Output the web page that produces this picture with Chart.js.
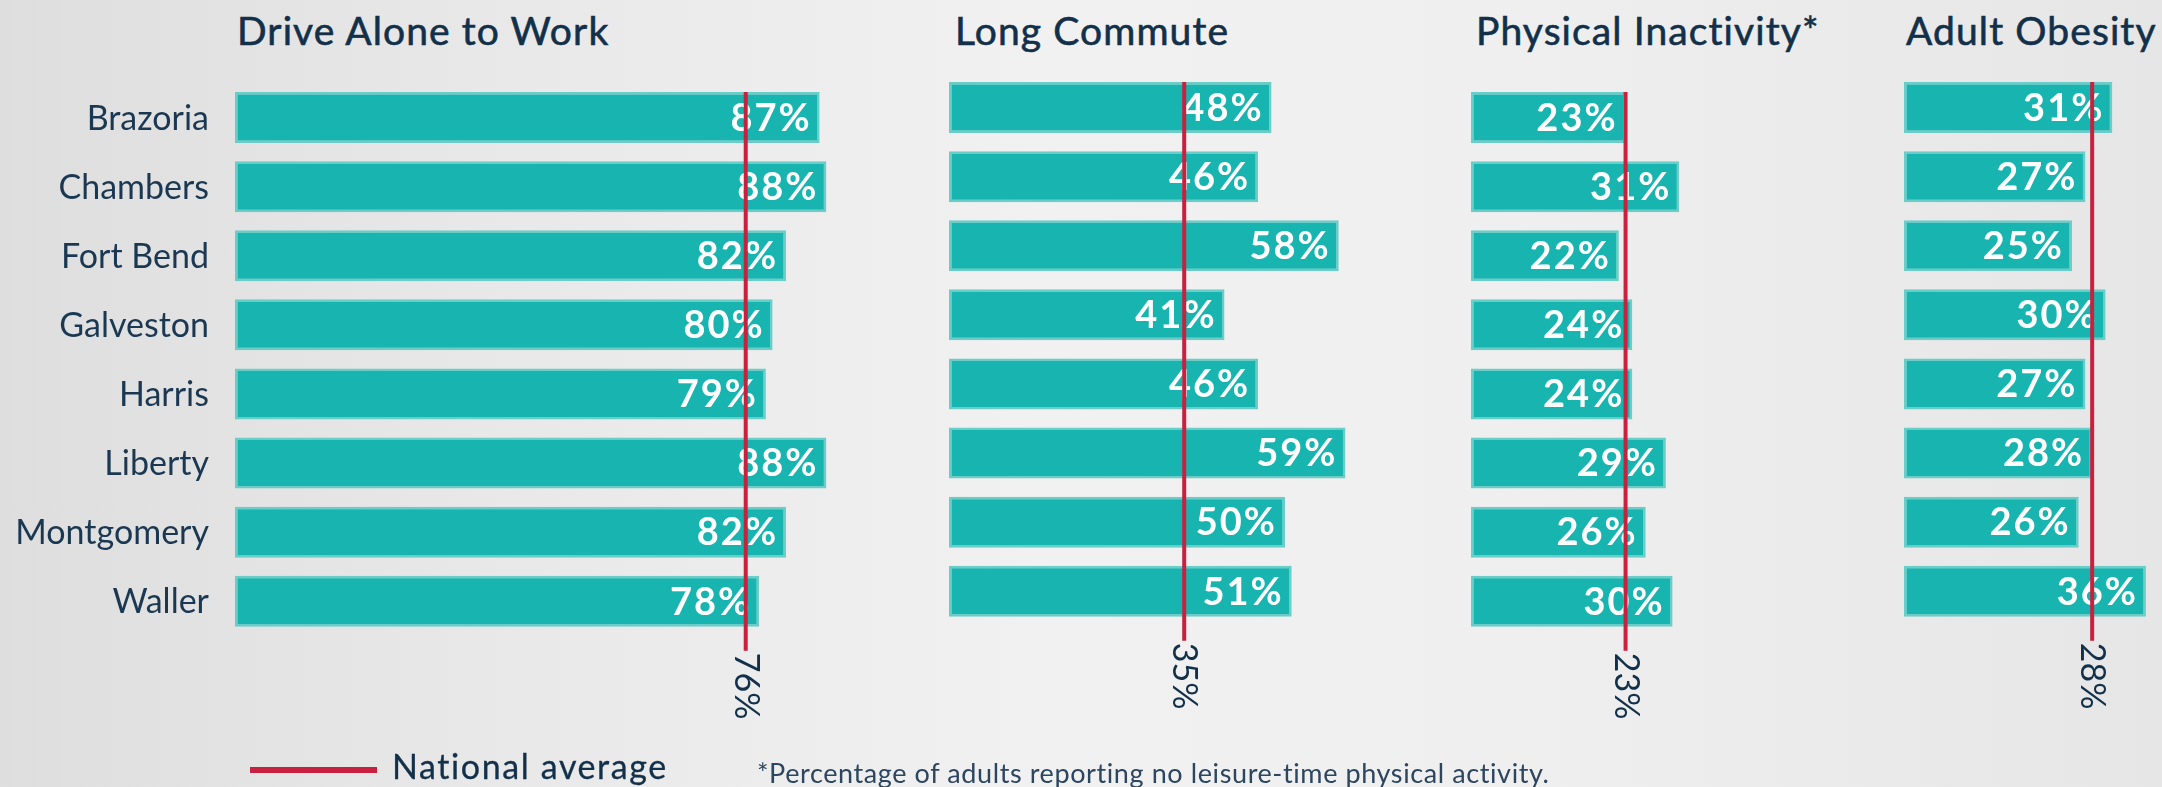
<!DOCTYPE html>
<html>
<head>
<meta charset="utf-8">
<script src="https://cdn.jsdelivr.net/npm/chart.js@4"></script>
<style>
  html, body { margin: 0; padding: 0; }
  body {
    width: 2162px; height: 787px; overflow: hidden; position: relative;
    font-family: Lato, "Noto Sans", sans-serif; color: #12304a;
    background: linear-gradient(90deg, #dedede 0%, #e8e8e8 22%, #f1f1f1 48%, #efefef 70%, #e6e6e6 100%);
  }
  .title { position: absolute; top: 11px; font-size: 39px; letter-spacing: 1.1px; line-height: 1; white-space: nowrap; -webkit-text-stroke: 0.6px #12304a; }
  .legend-line { position: absolute; left: 250px; top: 767px; width: 127px; height: 6px; background: #c8203f; }
  .legend-text { position: absolute; left: 392px; top: 749px; font-size: 34px; letter-spacing: 1.6px; line-height: 1; -webkit-text-stroke: 0.3px #12304a; }
  .note { position: absolute; left: 757px; top: 759px; font-size: 27px; letter-spacing: 0.6px; line-height: 1; color: #2c4660; white-space: nowrap; }
  canvas { position: absolute; }
</style>
</head>
<body>
<div id="wrap"></div>
<div class="legend-line"></div>
<div class="legend-text">National average</div>
<div class="note">*Percentage of adults reporting no leisure-time physical activity.</div>
<script>
const counties = ["Brazoria", "Chambers", "Fort Bend", "Galveston", "Harris", "Liberty", "Montgomery", "Waller"];
const panelTitles = ["Drive Alone to Work", "Long Commute", "Physical Inactivity*", "Adult Obesity"];
const driveAlone = [87, 88, 82, 80, 79, 88, 82, 78];
const longCommute = [48, 46, 58, 41, 46, 59, 50, 51];
const inactivity = [23, 31, 22, 24, 24, 29, 26, 30];
const obesity = [31, 27, 25, 30, 27, 28, 26, 36];
const nationalAvg = [76, 35, 23, 28];

const series = [driveAlone, longCommute, inactivity, obesity];

// layout of the four small charts (pixels)
const PX_PER_PCT = 6.72;
const BAND = 69.1;
const CANVAS_H = 700;
const panels = [
  { left: 0,    top: 83,   width: 855, axisW: 235, titleX: 237 },
  { left: 949,  top: 72.5, width: 471, axisW: 0,   titleX: 955 },
  { left: 1471, top: 83,   width: 379, axisW: 0,   titleX: 1476 },
  { left: 1904, top: 72.5, width: 258, axisW: 0,   titleX: 1906 }
];

// county names, placed with the category scale (first panel only)
const countyLabels = {
  id: "countyLabels",
  afterDraw(chart, args, opts) {
    if (!opts.show) return;
    const ctx = chart.ctx;
    const y = chart.scales.y;
    ctx.save();
    ctx.fillStyle = "#1b3853";
    ctx.font = "400 34px Lato";
    ctx.textAlign = "right";
    ctx.textBaseline = "middle";
    chart.data.labels.forEach((name, j) => ctx.fillText(name, chart.chartArea.left - 26, y.getPixelForValue(j) + 1));
    ctx.restore();
  }
};

// white percentage labels at the end of each bar
const barLabels = {
  id: "barLabels",
  afterDatasetsDraw(chart) {
    const ctx = chart.ctx;
    const meta = chart.getDatasetMeta(0);
    const vals = chart.data.datasets[0].data;
    ctx.save();
    ctx.fillStyle = "#ffffff";
    ctx.font = "700 38px Lato";
    ctx.letterSpacing = "2px";
    ctx.textAlign = "right";
    ctx.textBaseline = "middle";
    meta.data.forEach((bar, j) => ctx.fillText(vals[j] + "%", bar.x - 8, bar.y + 1));
    ctx.restore();
  }
};

// red national average line with its rotated value underneath
const avgLine = {
  id: "natAvg",
  afterDraw(chart, args, opts) {
    const ctx = chart.ctx;
    const meta = chart.getDatasetMeta(0);
    const first = meta.data[0];
    const last = meta.data[meta.data.length - 1];
    const x = chart.scales.x.getPixelForValue(opts.value);
    const y0 = first.y - first.height / 2;
    const y1 = last.y + last.height / 2 + 24;
    ctx.save();
    ctx.strokeStyle = "#c8203f";
    ctx.lineWidth = 4;
    ctx.beginPath();
    ctx.moveTo(x, y0);
    ctx.lineTo(x, y1);
    ctx.stroke();
    ctx.translate(x, y1 + 2);
    ctx.rotate(Math.PI / 2);
    ctx.fillStyle = "#12304a";
    ctx.font = "400 34px Lato";
    ctx.textAlign = "left";
    ctx.textBaseline = "middle";
    ctx.fillText(opts.value + "%", 0, 0);
    ctx.restore();
  }
};

const wrap = document.getElementById("wrap");

panels.forEach((p, i) => {
  const t = document.createElement("div");
  t.className = "title";
  t.style.left = p.titleX + "px";
  t.textContent = panelTitles[i];
  wrap.appendChild(t);

  const canvas = document.createElement("canvas");
  canvas.width = p.width;
  canvas.height = CANVAS_H;
  canvas.style.left = p.left + "px";
  canvas.style.top = p.top + "px";
  canvas.style.width = p.width + "px";
  canvas.style.height = CANVAS_H + "px";
  wrap.appendChild(canvas);

  const plotW = p.width - p.axisW;

  new Chart(canvas, {
    type: "bar",
    data: {
      labels: counties,
      datasets: [{
        data: series[i],
        backgroundColor: "#18b5b0",
        borderColor: "#6acdc8",
        borderWidth: 2.5,
        borderSkipped: false,
        categoryPercentage: 1,
        barPercentage: 51 / BAND
      }]
    },
    options: {
      indexAxis: "y",
      responsive: false,
      animation: false,
      layout: { padding: { top: 0, left: p.axisW, right: 0, bottom: CANVAS_H - 8 * BAND } },
      scales: {
        x: { display: false, min: 0, max: plotW / PX_PER_PCT },
        y: { display: false }
      },
      plugins: {
        legend: { display: false },
        tooltip: { enabled: false },
        countyLabels: { show: i === 0 },
        natAvg: { value: nationalAvg[i] }
      }
    },
    plugins: [countyLabels, barLabels, avgLine]
  });
});
</script>
</body>
</html>
